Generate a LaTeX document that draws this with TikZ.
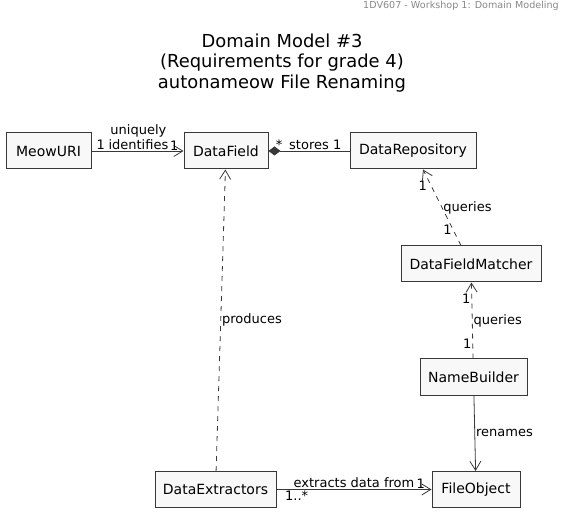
\documentclass[tikz,border=0pt]{standalone}
\usepackage{fontspec}
\setmainfont{DejaVu Sans}
\usetikzlibrary{arrows.meta}
\definecolor{boxfill}{RGB}{248,248,248}
\definecolor{boxline}{RGB}{56,56,56}
\definecolor{headgray}{RGB}{136,136,136}
\newcommand{\heightclass}{36pt}
\tikzset{
    cls/.style={draw=boxline, fill=boxfill, line width=1pt, rectangle, minimum height=\heightclass, inner xsep=0pt, font=\fontsize{14}{16}\selectfont},
    lbl/.style={font=\fontsize{13}{15}\selectfont, inner sep=1pt},
    assoc/.style={draw=boxline, line width=0.8pt, -{Straight Barb[length=9pt,width=11pt]}},
    dep/.style={assoc, dash pattern=on 5pt off 5pt},
    comp/.style={draw=boxline, line width=0.8pt, {Diamond[length=12pt,width=9pt]}-}
}

\begin{document}
\begin{tikzpicture}[x=1pt, y=-1pt]
      \useasboundingbox (0,0) rectangle (570,518);

      \node[anchor=east, text=headgray, font=\fontsize{9.6}{11}\selectfont, inner sep=0pt] (header) at (559,6) {1DV607 - Workshop 1: Domain Modeling};
      \node[align=center, font=\fontsize{17.9}{20.5}\selectfont] (title) at (282,63) {Domain Model \#3\\(Requirements for grade 4)\\autonameow File Renaming};

      \node[cls, minimum width=85pt] (meowuri) at (48.5,151) {MeowURI};
      \node[cls, minimum width=84pt] (datafield) at (226,151) {DataField};
      \node[cls, minimum width=126pt] (datarepo) at (413,151) {DataRepository};
      \node[cls, minimum width=140pt] (matcher) at (471,264) {DataFieldMatcher};
      \node[cls, minimum width=107pt] (namebuilder) at (473.5,377) {NameBuilder};
      \node[cls, minimum width=121pt] (extractors) at (215.5,489.5) {DataExtractors};
      \node[cls, minimum width=88pt] (fileobject) at (476,489.5) {FileObject};

      \draw[assoc] (meowuri) -- (datafield)
          node[lbl, pos=.51, above, align=center, font=\fontsize{13}{15}\selectfont] (identifies-lbl) {uniquely\\identifies}
          node[lbl, pos=.1, above] (meowuri-m) {1}
          node[lbl, pos=.9, above, inner sep=0pt] (datafield-m1) {1};
      \draw[comp] (datafield) -- (datarepo)
          node[lbl, pos=.13, above] (datafield-m2) {*}
          node[lbl, pos=.5, above] (stores-lbl) {stores}
          node[lbl, pos=.85, above] (datarepo-m) {1};
      \draw[dep] ([xshift=-10pt]matcher.north) -- ([xshift=10pt]datarepo.south)
          node[lbl, pos=.5, right] (queries-lbl1) {queries}
          node[lbl, pos=.78, left, xshift=-3pt] (datarepo-m2) {1}
          node[lbl, pos=.21, left] (matcher-m1) {1};
      \draw[dep] (namebuilder) -- (matcher)
          node[lbl, pos=.5, right] (queries-lbl2) {queries}
          node[lbl, pos=.79, left] (matcher-m2) {1}
          node[lbl, pos=.19, left] (namebuilder-m) {1};
      \draw[assoc] (namebuilder) -- (fileobject)
          node[lbl, pos=.5, right] (renames-lbl) {renames};
      \draw[dep] (extractors) -- (datafield)
          node[lbl, pos=.5, right] (produces-lbl) {produces};
      \draw[assoc] (extractors) -- (fileobject)
          node[lbl, pos=.5, above] (extracts-lbl) {extracts data from}
          node[lbl, pos=.93, above] (fileobject-m) {1}
          node[lbl, pos=.13, below] (extractors-m) {1..*};
\end{tikzpicture}
\end{document}
